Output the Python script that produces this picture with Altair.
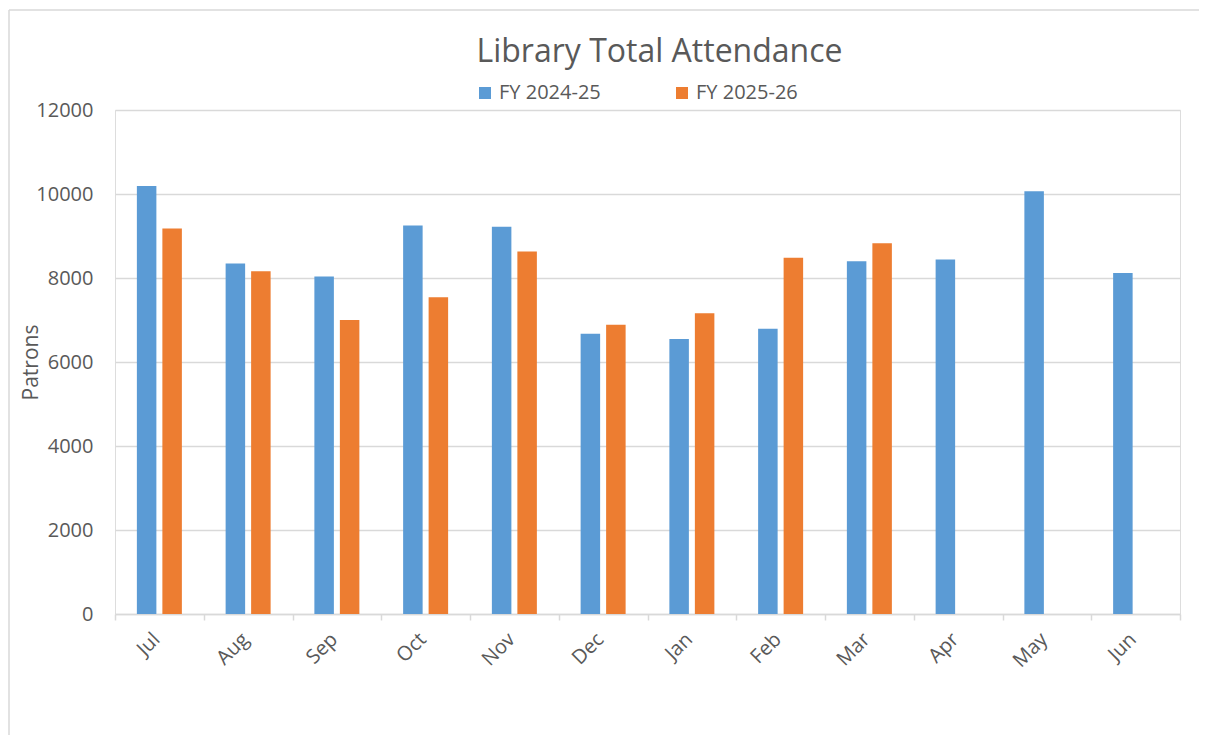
import altair as alt
import pandas as pd

months = ["Jul", "Aug", "Sep", "Oct", "Nov", "Dec", "Jan", "Feb", "Mar", "Apr", "May", "Jun"]
fy_2024_25 = [10190, 8345, 8035, 9250, 9220, 6670, 6545, 6790, 8400, 8440, 10065, 8120]
fy_2025_26 = [9180, 8160, 7000, 7540, 8630, 6885, 7160, 8485, 8830]
series = ["FY 2024-25", "FY 2025-26"]
colors = ["#5B9BD5", "#ED7D31"]
y_ticks = [0, 2000, 4000, 6000, 8000, 10000, 12000]

rows = []
for m, v in zip(months, fy_2024_25):
    rows.append({"Month": m, "Series": series[0], "Patrons": v})
for m, v in zip(months, fy_2025_26):
    rows.append({"Month": m, "Series": series[1], "Patrons": v})
df = pd.DataFrame(rows)

FONT = "Open Sans"
GRAY = "#595959"
GRID = "#D9D9D9"

bars = alt.Chart(df).mark_bar().encode(
    x=alt.X(
        "Month:N",
        sort=months,
        scale=alt.Scale(paddingInner=0, paddingOuter=0),
        axis=alt.Axis(
            title=None, labelAngle=-45, labelAlign="right", labelBaseline="middle",
            labelFontSize=20, labelColor=GRAY, labelFont=FONT, labelOffset=-3,
            domainColor=GRID, domainWidth=1.5, tickColor=GRID, tickWidth=1.5, tickSize=6,
            tickBand="extent", grid=False, labelPadding=16,
        ),
    ),
    xOffset=alt.XOffset("Series:N", sort=series,
                        scale=alt.Scale(domain=series, paddingInner=0.235, paddingOuter=0.858)),
    y=alt.Y(
        "Patrons:Q",
        scale=alt.Scale(domain=[0, 12000], nice=False),
        axis=alt.Axis(
            values=y_ticks, format="d", title="Patrons", titleFont=FONT, titleFontSize=21,
            titleFontWeight="normal", titleColor=GRAY, titleX=-84, titleY=252, titleAngle=-90,
            titleBaseline="middle", titleAlign="center", labelFont=FONT, labelFontSize=20,
            labelColor=GRAY, labelPadding=22, ticks=False, tickSize=0, domain=False,
            grid=True, gridColor=GRID, gridWidth=1.5,
        ),
    ),
    color=alt.Color(
        "Series:N",
        scale=alt.Scale(domain=series, range=colors),
        legend=alt.Legend(
            title=None, orient="none", legendX=360, legendY=-27, direction="horizontal",
            symbolType="square", symbolSize=144, symbolStrokeWidth=0, labelFontSize=20,
            labelFont=FONT, labelColor=GRAY, columnPadding=71, labelOffset=4, padding=0,
        ),
    ),
)

frame_df = pd.DataFrame({"k": [0]})
left_rule = alt.Chart(frame_df).mark_rule(color=GRID, strokeWidth=1.5).encode(
    x=alt.value(-106), y=alt.value(-100), y2=alt.value(625)
)
top_rule = alt.Chart(frame_df).mark_rule(color=GRID, strokeWidth=1.5).encode(
    x=alt.value(-106), x2=alt.value(1084), y=alt.value(-100)
)

chart = alt.layer(left_rule, top_rule, bars).properties(
    width=1065,
    height=504,
    padding={"top": 1, "left": 0, "right": 0, "bottom": 0},
    title=alt.TitleParams(
        "Library Total Attendance", font=FONT, fontSize=32, fontWeight="normal", color=GRAY,
        anchor="middle", dx=12, offset=-85, baseline="alphabetic",
    ),
).configure_view(stroke=None).configure(background="white")

chart.save("out.html", embed_options={"renderer": "svg", "actions": False})
